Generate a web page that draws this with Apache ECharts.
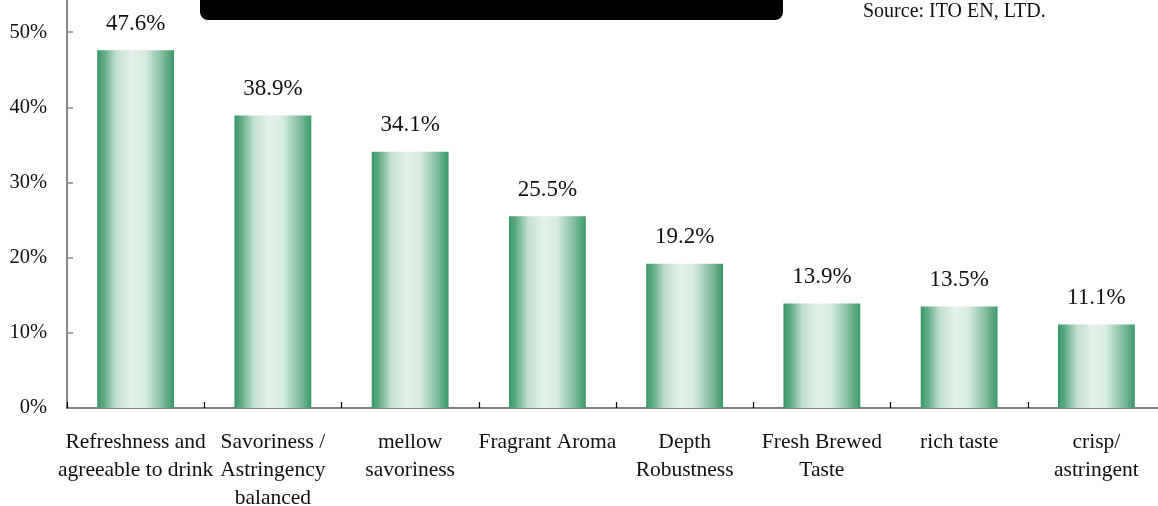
<!DOCTYPE html>
<html>
<head>
<meta charset="utf-8">
<script src="https://cdn.jsdelivr.net/npm/echarts@6/dist/echarts.min.js"></script>
<style>
html,body{margin:0;padding:0;background:#fff;}
#c{width:1158px;height:506px;}
</style>
</head>
<body>
<div id="c"></div>
<script>
const categories = [
  "Refreshness and\nagreeable to drink",
  "Savoriness /\nAstringency\nbalanced",
  "mellow\nsavoriness",
  "Fragrant Aroma",
  "Depth\nRobustness",
  "Fresh Brewed\nTaste",
  "rich taste",
  "crisp/\nastringent"
];
const values = [47.6, 38.9, 34.1, 25.5, 19.2, 13.9, 13.5, 11.1];
const yTicks = { min: 0, max: 60, interval: 10 };
const sourceText = "Source: ITO EN, LTD.";

const FONT = "'Liberation Serif', 'DejaVu Serif', serif";
const chart = echarts.init(document.getElementById('c'), null, { renderer: 'canvas' });
chart.setOption({
  backgroundColor: '#ffffff',
  animation: false,
  grid: { left: 67, right: -7, top: -43, bottom: 98, containLabel: false, outerBoundsMode: 'none' },
  xAxis: {
    type: 'category',
    data: categories,
    axisLine: { show: true, lineStyle: { color: '#555', width: 1.5 } },
    axisTick: { show: true, inside: true, length: 6, alignWithLabel: false, lineStyle: { color: '#000', width: 1.2 } },
    axisLabel: { fontFamily: FONT, fontSize: 21.5, color: '#111', margin: 20, lineHeight: 28, interval: 0 }
  },
  yAxis: {
    type: 'value',
    min: yTicks.min, max: yTicks.max, interval: yTicks.interval,
    axisLine: { show: true, lineStyle: { color: '#888', width: 2 } },
    axisTick: { show: true, inside: true, length: 6, lineStyle: { color: '#888', width: 1.5 } },
    splitLine: { show: false },
    axisLabel: { fontFamily: FONT, fontSize: 20.5, color: '#111', margin: 20, formatter: '{value}%' }
  },
  series: [{
    type: 'bar',
    data: values,
    barWidth: '56%',
    itemStyle: {
      color: new echarts.graphic.LinearGradient(0, 0, 1, 0, [
        { offset: 0, color: '#3a9868' },
        { offset: 0.08, color: '#5aa97f' },
        { offset: 0.25, color: '#c2dfcf' },
        { offset: 0.45, color: '#e3f2ea' },
        { offset: 0.62, color: '#d8ece1' },
        { offset: 0.85, color: '#80bc9b' },
        { offset: 1, color: '#3a9868' }
      ])
    },
    label: {
      show: true, position: 'top', distance: 15,
      fontFamily: FONT, fontSize: 23, color: '#111',
      formatter: p => p.value.toFixed(1) + '%'
    }
  }],
  graphic: [
    { type: 'rect', shape: { x: 200, y: -20, width: 583, height: 40, r: 8 }, style: { fill: '#000' } },
    { type: 'text', left: 863, top: 2, style: { text: sourceText, font: "20px " + FONT, fill: '#111' } }
  ]
});
</script>
</body>
</html>
